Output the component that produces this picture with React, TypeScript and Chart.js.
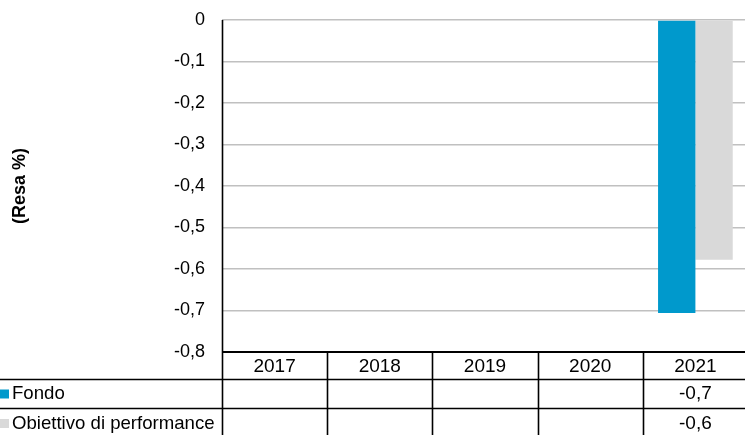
import React, { useEffect, useRef } from "react";
import { Chart, registerables } from "chart.js";

Chart.register(...registerables);

const categories = ["2017", "2018", "2019", "2020", "2021"];
const fondoValues: (number | null)[] = [null, null, null, null, -0.706];
const obiettivoValues: (number | null)[] = [null, null, null, null, -0.578];
const seriesNames = ["Fondo", "Obiettivo di performance"];
const seriesColors = ["#0099cc", "#d9d9d9"];
const yTitle = "(Resa %)";

const FONT = "'Liberation Sans', Arial, sans-serif";
const FS = 18;
const TFS = 19;
const LFS = 18.6;

const fmt = (v: number) => {
  if (Math.abs(v) < 1e-9) return "0";
  return v.toFixed(1).replace(".", ",");
};

const tablePlugin = {
  id: "dataTable",
  afterDraw(chart: any) {
    const ctx = chart.ctx;
    const xs = chart.scales.x;
    const area = chart.chartArea;
    const W = chart.width;
    const H = chart.height;
    const top = area.bottom;
    const row1 = top + 27;
    const row2 = row1 + 29;
    const n = categories.length;
    const step = (area.right - area.left) / n;
    ctx.save();
    // bottom axis line
    ctx.strokeStyle = "#000";
    ctx.lineWidth = 2;
    ctx.beginPath();
    ctx.moveTo(area.left, top);
    ctx.lineTo(W, top);
    ctx.stroke();
    // horizontal table lines
    ctx.lineWidth = 1.6;
    ctx.beginPath();
    ctx.moveTo(0, row1 + 0.5);
    ctx.lineTo(W, row1 + 0.5);
    ctx.moveTo(0, row2 + 0.5);
    ctx.lineTo(W, row2 + 0.5);
    ctx.stroke();
    // vertical lines
    ctx.lineWidth = 1.6;
    ctx.beginPath();
    for (let i = 0; i < n; i++) {
      const x = Math.round(area.left + i * step) + 0.5;
      ctx.moveTo(x, top);
      ctx.lineTo(x, H);
    }
    ctx.stroke();
    // category labels
    ctx.fillStyle = "#000";
    ctx.font = `${TFS}px ${FONT}`;
    ctx.textAlign = "center";
    ctx.textBaseline = "middle";
    categories.forEach((c, i) => {
      const x = xs.getPixelForValue(i);
      ctx.fillText(c, x, (top + row1) / 2 + 1);
    });
    // value rows
    const rows = [fondoValues, obiettivoValues];
    const rowCenters = [(row1 + row2) / 2 + 0.5, (row2 + H) / 2 + 2];
    rows.forEach((vals, r) => {
      ctx.font = `${TFS}px ${FONT}`;
      vals.forEach((v, i) => {
        if (v === null) return;
        ctx.textAlign = "center";
        ctx.fillText(fmt(v), xs.getPixelForValue(i), rowCenters[r]);
      });
      // legend
      ctx.fillStyle = seriesColors[r];
      ctx.fillRect(0, rowCenters[r] - 4.5, 9, 9);
      ctx.fillStyle = "#000";
      ctx.textAlign = "left";
      ctx.font = `${LFS}px ${FONT}`;
      ctx.fillText(seriesNames[r], 12, rowCenters[r]);
    });
    // y title
    ctx.save();
    ctx.translate(20, (area.top + area.bottom) / 2);
    ctx.rotate(-Math.PI / 2);
    ctx.font = `bold ${FS}px ${FONT}`;
    ctx.textAlign = "center";
    ctx.textBaseline = "middle";
    ctx.fillText(yTitle, 0, 0);
    ctx.restore();
    // y axis line
    ctx.strokeStyle = "#000";
    ctx.lineWidth = 1.6;
    ctx.beginPath();
    ctx.moveTo(area.left + 0.5, area.top);
    ctx.lineTo(area.left + 0.5, area.bottom);
    ctx.stroke();
    ctx.restore();
  },
};

export default function App() {
  const ref = useRef<HTMLCanvasElement | null>(null);
  useEffect(() => {
    document.body.style.margin = "0";
    const chart = new Chart(ref.current as HTMLCanvasElement, {
      type: "bar",
      data: {
        labels: categories,
        datasets: [
          {
            label: seriesNames[0],
            data: fondoValues,
            backgroundColor: seriesColors[0],
            categoryPercentage: 0.71,
            barPercentage: 1,
          },
          {
            label: seriesNames[1],
            data: obiettivoValues,
            backgroundColor: seriesColors[1],
            categoryPercentage: 0.71,
            barPercentage: 1,
          },
        ],
      },
      options: {
        responsive: false,
        animation: false,
        layout: { padding: { left: 0, top: 20, right: 0, bottom: 83 } },
        plugins: {
          legend: { display: false },
          tooltip: { enabled: false },
        },
        scales: {
          x: {
            display: false,
          },
          y: {
            min: -0.8,
            max: 0,
            afterFit: (scale: any) => {
              scale.width = 222;
              scale.paddingTop = 0;
              scale.paddingBottom = 0;
            },
            ticks: {
              stepSize: 0.1,
              color: "#000",
              font: { family: FONT, size: FS },
              padding: 17,
              callback: (v: any) => fmt(Number(v)),
            },
            grid: {
              color: "#c0c0c0",
              lineWidth: 1.5,
              drawTicks: false,
            },
            border: { display: false },
          },
        },
      },
      plugins: [tablePlugin],
    });
    return () => chart.destroy();
  }, []);
  return (
    <div style={{ width: 745, height: 435, overflow: "hidden" }}>
      <canvas ref={ref} width={748} height={435} />
    </div>
  );
}
